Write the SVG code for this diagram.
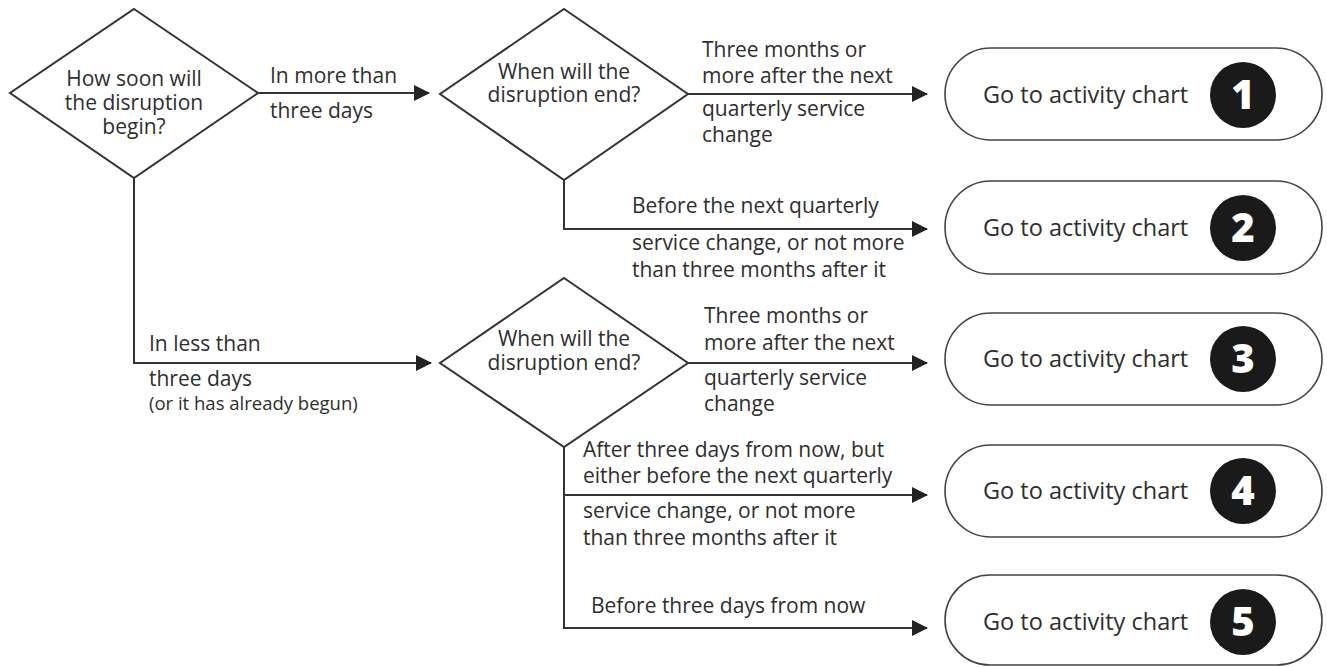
<svg xmlns="http://www.w3.org/2000/svg" width="1327" height="667" viewBox="0 0 1327 667">
<style>
.t{font-family:"Open Sans","Noto Sans",sans-serif;font-size:21px;fill:#2e2e2e}
.c{text-anchor:middle}
.s{font-size:18.5px}
.b{font-size:23.5px}
.shape{fill:#fff;stroke:#333;stroke-width:2}
.term{fill:#fff;stroke:#444;stroke-width:1.6}
.num{font-family:"Open Sans","DejaVu Sans",sans-serif;font-weight:800;font-size:40px;fill:#fff;text-anchor:middle}
.ln{fill:none;stroke:#333;stroke-width:2}
</style>
<defs>
<marker id="ah" markerUnits="userSpaceOnUse" markerWidth="16" markerHeight="16" refX="15" refY="8" orient="auto">
<path d="M0,0 L16,8 L0,16 Z" fill="#222"/>
</marker>
</defs>
<rect width="1327" height="667" fill="#fff"/>
<g id="connectors">
<path class="ln" d="M258,93 H429" marker-end="url(#ah)"/>
<path class="ln" d="M688,94 H927" marker-end="url(#ah)"/>
<path class="ln" d="M564,180 V229 H927" marker-end="url(#ah)"/>
<path class="ln" d="M134,178 V363 H431" marker-end="url(#ah)"/>
<path class="ln" d="M688,363 H927" marker-end="url(#ah)"/>
<path class="ln" d="M564,447 V628 H927" marker-end="url(#ah)"/>
<path class="ln" d="M564,495 H927" marker-end="url(#ah)"/>
<text class="t" x="270" y="83">In more than</text>
<text class="t" x="270" y="118">three days</text>
<text class="t" x="702" y="57">Three months or</text>
<text class="t" x="702" y="83">more after the next</text>
<text class="t" x="702" y="116">quarterly service</text>
<text class="t" x="702" y="142">change</text>
<text class="t" x="632" y="213">Before the next quarterly</text>
<text class="t" x="632" y="250">service change, or not more</text>
<text class="t" x="632" y="277">than three months after it</text>
<text class="t" x="149" y="351">In less than</text>
<text class="t" x="149" y="386">three days</text>
<text class="t s" x="149" y="410">(or it has already begun)</text>
<text class="t" x="704" y="323">Three months or</text>
<text class="t" x="704" y="350">more after the next</text>
<text class="t" x="704" y="385">quarterly service</text>
<text class="t" x="704" y="411">change</text>
<text class="t" x="583" y="457">After three days from now, but</text>
<text class="t" x="583" y="483">either before the next quarterly</text>
<text class="t" x="583" y="518">service change, or not more</text>
<text class="t" x="583" y="545">than three months after it</text>
<text class="t" x="591" y="613">Before three days from now</text>
</g>
<g id="q1">
<path class="shape" d="M134,9 L258,93 L134,178 L10,93 Z"/>
<text class="t c" x="134" y="86">How soon will</text>
<text class="t c" x="134" y="110">the disruption</text>
<text class="t c" x="134" y="134">begin?</text>
</g>
<g id="q2">
<path class="shape" d="M564,9 L688,94 L564,180 L440,94 Z"/>
<text class="t c" x="564" y="79">When will the</text>
<text class="t c" x="564" y="102">disruption end?</text>
</g>
<g id="q3">
<path class="shape" d="M564,278 L688,363 L564,447 L440,363 Z"/>
<text class="t c" x="564" y="346">When will the</text>
<text class="t c" x="564" y="370">disruption end?</text>
</g>
<g id="a1">
<rect class="term" x="945" y="48" width="377" height="92" rx="46"/>
<text class="t b" x="983" y="103">Go to activity chart</text>
<circle cx="1243" cy="95" r="33" fill="#1a1a1a"/>
<text class="num" x="1243" y="109">1</text>
</g>
<g id="a2">
<rect class="term" x="945" y="181" width="377" height="93" rx="46"/>
<text class="t b" x="983" y="236">Go to activity chart</text>
<circle cx="1243" cy="228" r="33" fill="#1a1a1a"/>
<text class="num" x="1243" y="242">2</text>
</g>
<g id="a3">
<rect class="term" x="945" y="313" width="377" height="92" rx="46"/>
<text class="t b" x="983" y="367">Go to activity chart</text>
<circle cx="1243" cy="359" r="33" fill="#1a1a1a"/>
<text class="num" x="1243" y="373">3</text>
</g>
<g id="a4">
<rect class="term" x="945" y="445" width="377" height="92" rx="46"/>
<text class="t b" x="983" y="499">Go to activity chart</text>
<circle cx="1243" cy="491" r="33" fill="#1a1a1a"/>
<text class="num" x="1243" y="505">4</text>
</g>
<g id="a5">
<rect class="term" x="945" y="575" width="377" height="90" rx="45"/>
<text class="t b" x="983" y="630">Go to activity chart</text>
<circle cx="1243" cy="622" r="33" fill="#1a1a1a"/>
<text class="num" x="1243" y="636">5</text>
</g>
</svg>
